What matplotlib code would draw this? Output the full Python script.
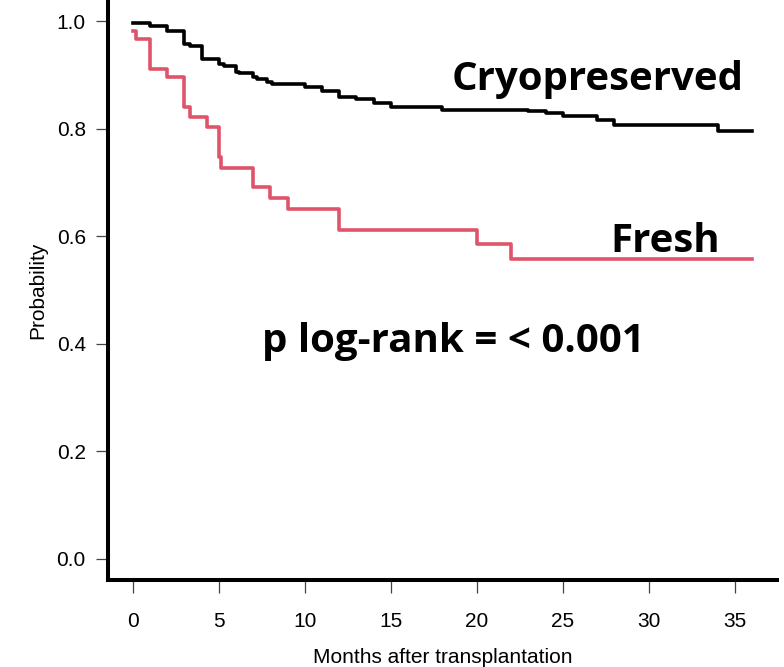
import matplotlib
matplotlib.use('Agg')
import matplotlib.pyplot as plt

# Kaplan-Meier steps (months, survival probability)
cryo_t = [0, 1.0, 2.0, 3.0, 3.3, 4.0, 5.0, 5.3, 6.0, 6.2, 7.0, 7.2, 7.8, 8.1,
          10.0, 11.0, 12.0, 13.0, 14.0, 15.0, 18.0, 23.0, 24.0, 25.0, 27.0,
          28.0, 34.0, 36.0]
cryo_p = [0.997, 0.991, 0.983, 0.959, 0.955, 0.931, 0.921, 0.918, 0.906,
          0.904, 0.897, 0.892, 0.888, 0.884, 0.878, 0.871, 0.860, 0.856,
          0.848, 0.841, 0.836, 0.833, 0.829, 0.824, 0.816, 0.807, 0.797, 0.797]

fresh_t = [0, 0.2, 1.0, 2.0, 3.0, 3.3, 4.3, 5.0, 5.1, 7.0, 8.0, 9.0, 12.0,
           20.0, 22.0, 36.0]
fresh_p = [0.983, 0.968, 0.912, 0.896, 0.840, 0.822, 0.804, 0.748, 0.728,
           0.691, 0.672, 0.651, 0.612, 0.586, 0.557, 0.557]

x_ticks = [0, 5, 10, 15, 20, 25, 30, 35]
y_ticks = [0.0, 0.2, 0.4, 0.6, 0.8, 1.0]

plt.rcParams['font.family'] = ['Liberation Sans', 'DejaVu Sans']

fig = plt.figure(figsize=(7.84, 6.67), dpi=100)
ax = fig.add_axes([0.1378, 0.1304, 0.853, 0.8696])

ax.step(cryo_t, cryo_p, where='post', color='black', lw=2.6)
ax.step(fresh_t, fresh_p, where='post', color='#DF536B', lw=2.6)

ax.set_xlim(-1.44, 37.44)
ax.set_ylim(-0.04, 1.04)
ax.set_xticks(x_ticks)
ax.set_yticks(y_ticks)
ax.set_yticklabels([f'{v:.1f}' for v in y_ticks])

for s in ['top', 'right']:
    ax.spines[s].set_visible(False)
for s in ['left', 'bottom']:
    ax.spines[s].set_linewidth(2.9)

ax.tick_params(axis='both', direction='out', length=9, width=0.9,
               color='#444444', labelsize=15)
ax.tick_params(axis='x', pad=14)
ax.tick_params(axis='y', pad=7)

ax.set_xlabel('Months after transplantation', fontsize=15, labelpad=12)
ax.set_ylabel('Probability', fontsize=15, labelpad=7)

big = dict(family=['Open Sans', 'DejaVu Sans'], fontweight='bold', fontsize=29)
ax.text(35.53, 0.872, 'Cryopreserved', ha='right', va='baseline', **big)
ax.text(34.13, 0.571, 'Fresh', ha='right', va='baseline', **big)
ax.text(7.53, 0.384, 'p log-rank = < 0.001', ha='left', va='baseline', **big)

fig.savefig('out.png', dpi=100)
